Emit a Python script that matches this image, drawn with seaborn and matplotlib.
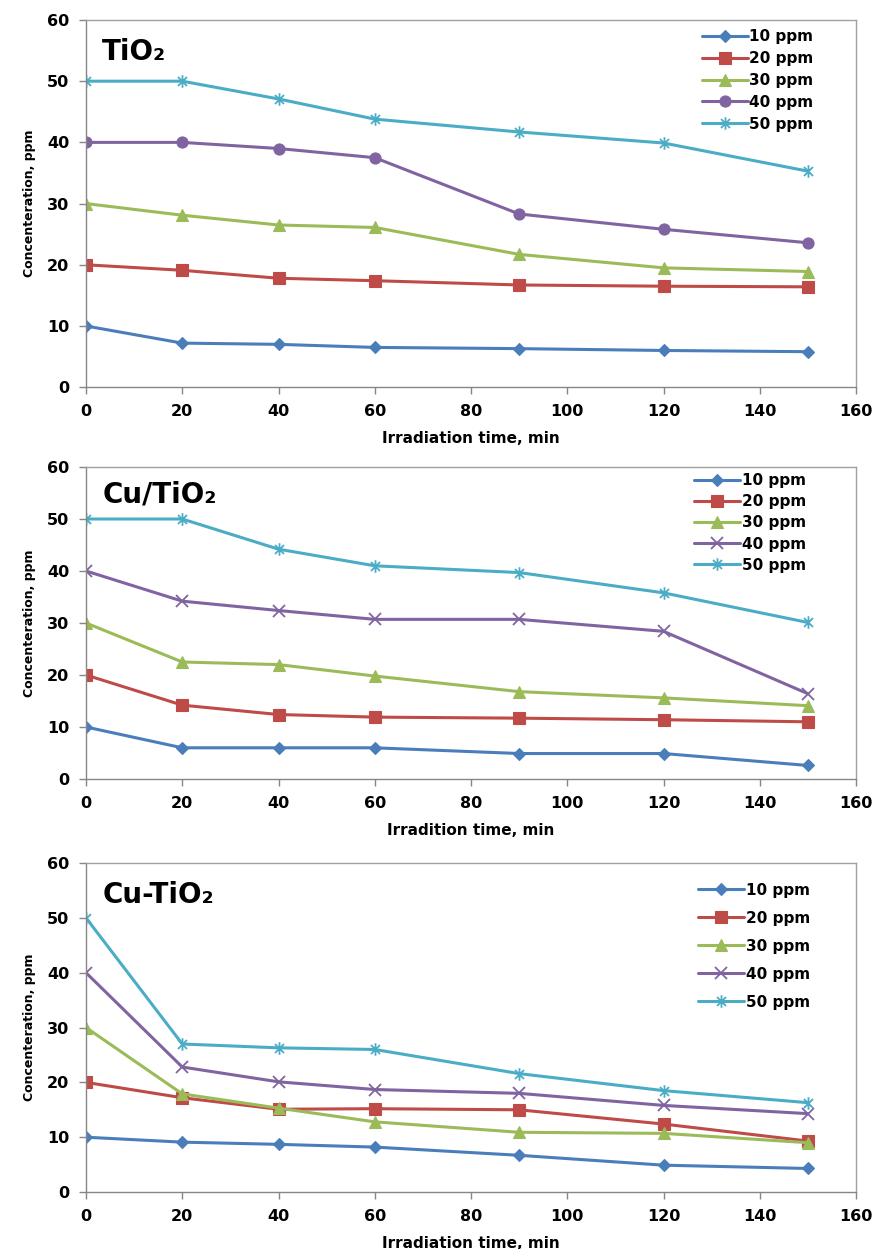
import numpy as np
import pandas as pd
import matplotlib
matplotlib.use("Agg")
import matplotlib.pyplot as plt
from matplotlib.path import Path
import seaborn as sns

# irradiation times (min)
times = [0, 20, 40, 60, 90, 120, 150]
series_names = ["10 ppm", "20 ppm", "30 ppm", "40 ppm", "50 ppm"]

# TiO2 panel
tio2_10 = [10.0, 7.2, 7.0, 6.5, 6.3, 6.0, 5.8]
tio2_20 = [20.0, 19.1, 17.8, 17.4, 16.7, 16.5, 16.4]
tio2_30 = [30.0, 28.1, 26.5, 26.1, 21.7, 19.5, 18.9]
tio2_40 = [40.0, 40.0, 39.0, 37.5, 28.3, 25.8, 23.6]
tio2_50 = [50.0, 50.0, 47.1, 43.8, 41.7, 39.9, 35.3]

# Cu/TiO2 panel
cu_slash_10 = [10.0, 6.0, 6.0, 6.0, 4.9, 4.9, 2.6]
cu_slash_20 = [20.0, 14.2, 12.4, 11.9, 11.7, 11.4, 11.0]
cu_slash_30 = [30.0, 22.5, 22.0, 19.8, 16.8, 15.6, 14.1]
cu_slash_40 = [40.0, 34.2, 32.4, 30.7, 30.7, 28.4, 16.4]
cu_slash_50 = [50.0, 50.0, 44.2, 41.0, 39.7, 35.8, 30.1]

# Cu-TiO2 panel
cu_dash_10 = [10.0, 9.1, 8.7, 8.2, 6.7, 4.9, 4.3]
cu_dash_20 = [20.0, 17.2, 15.1, 15.2, 15.0, 12.4, 9.3]
cu_dash_30 = [30.0, 17.9, 15.3, 12.8, 10.9, 10.7, 9.0]
cu_dash_40 = [40.0, 22.8, 20.1, 18.7, 18.0, 15.8, 14.3]
cu_dash_50 = [50.0, 27.0, 26.3, 26.0, 21.6, 18.5, 16.3]

colors = ["#4A7EBB", "#BE4B48", "#9BBB59", "#8064A2", "#4BACC6"]

# Excel-like star marker: vertical bar plus an X
star = Path([(0, -1), (0, 1), (-0.72, -0.72), (0.72, 0.72), (-0.72, 0.72), (0.72, -0.72)],
            [Path.MOVETO, Path.LINETO, Path.MOVETO, Path.LINETO, Path.MOVETO, Path.LINETO])

sns.set_style("white")
plt.rcParams["font.family"] = ["DejaVu Sans"]
plt.rcParams["font.weight"] = "bold"
plt.rcParams["text.color"] = "black"
plt.rcParams["axes.labelcolor"] = "black"
plt.rcParams["xtick.labelcolor"] = "black"
plt.rcParams["ytick.labelcolor"] = "black"

panels = [
    {"title": "TiO\u2082", "data": [tio2_10, tio2_20, tio2_30, tio2_40, tio2_50],
     "mk40": "o", "xlabel": "Irradiation time, min",
     "rect": [0.0983, 0.690, 0.880, 0.294], "title_y": 0.89,
     "leg": (0.80, 0.975), "lspace": 0.45},
    {"title": "Cu/TiO\u2082", "data": [cu_slash_10, cu_slash_20, cu_slash_30, cu_slash_40, cu_slash_50],
     "mk40": "x", "xlabel": "Irradition time, min",
     "rect": [0.0983, 0.3763, 0.880, 0.2498], "title_y": 0.885,
     "leg": (0.79, 0.98), "lspace": 0.4},
    {"title": "Cu-TiO\u2082", "data": [cu_dash_10, cu_dash_20, cu_dash_30, cu_dash_40, cu_dash_50],
     "mk40": "x", "xlabel": "Irradiation time, min",
     "rect": [0.0983, 0.0456, 0.880, 0.2634], "title_y": 0.878,
     "leg": (0.795, 0.94), "lspace": 0.85},
]

fig = plt.figure(figsize=(8.75, 12.49), dpi=100)

for p in panels:
    ax = fig.add_axes(p["rect"])
    markers = ["D", "s", "^", p["mk40"], star]
    sizes = [6, 8, 8, 8, 9]
    handles = []
    for name, vals, c, m, ms in zip(series_names, p["data"], colors, markers, sizes):
        df = pd.DataFrame({"time": times, "conc": vals})
        open_mk = (m == "x") or (m is star)
        sns.lineplot(data=df, x="time", y="conc", color=c, linewidth=2.2,
                     marker=m, markersize=ms,
                     markeredgecolor=c,
                     markerfacecolor="none" if open_mk else c,
                     markeredgewidth=1.3 if open_mk else 0.8,
                     label=name, legend=False, ax=ax)
        handles.append(ax.lines[-1])

    ax.set_xlim(0, 160)
    ax.set_ylim(0, 60)
    ax.set_xticks(range(0, 161, 20))
    ax.set_yticks(range(0, 61, 10))
    ax.tick_params(axis="both", direction="out", length=5, width=1, color="#868686",
                   labelsize=11.5, labelcolor="black", pad=7, bottom=True, left=True)
    for lab in ax.get_xticklabels() + ax.get_yticklabels():
        lab.set_fontweight("bold")
    for s in ax.spines.values():
        s.set_color("#A0A0A0")
        s.set_linewidth(1)
    ax.spines["left"].set_color("#868686")
    ax.spines["bottom"].set_color("#868686")

    ax.set_xlabel(p["xlabel"], fontsize=11, fontweight="bold", labelpad=9, color="black")
    ax.set_ylabel("Concenteration, ppm", fontsize=9, fontweight="bold", labelpad=8, color="black")

    ax.text(0.021, p["title_y"], p["title"], transform=ax.transAxes, fontsize=20,
            fontweight="bold", va="baseline", ha="left", color="black")

    leg = ax.legend(handles=handles, labels=series_names, loc="upper left",
                    bbox_to_anchor=p["leg"], frameon=False,
                    handlelength=3.0, handletextpad=0.1, labelspacing=p["lspace"],
                    borderpad=0, borderaxespad=0,
                    prop={"weight": "bold", "size": 11})
    for t in leg.get_texts():
        t.set_color("black")

fig.savefig("out.png", dpi=100)
